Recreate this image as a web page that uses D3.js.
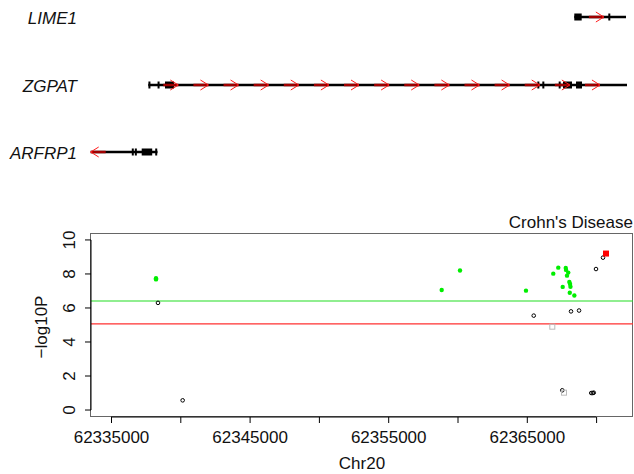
<!DOCTYPE html>
<html>
<head>
<meta charset="utf-8">
<script src="https://cdn.jsdelivr.net/npm/d3@7"></script>
<style>
    body { margin: 0; background: #fff; }
    text { font-family: "Liberation Sans", Arial, sans-serif; fill: #111; }
</style>
</head>
<body>
<script>
//association results: [position, -log10P]
var greenPoints = [
    [62338247, 7.75], [62338247, 7.68], [62358860, 7.06], [62360180, 8.2],
    [62364940, 7.02], [62366910, 8.02], [62367270, 8.37], [62367810, 8.35],
    [62367830, 8.24], [62367990, 8.08], [62367900, 7.9], [62368070, 7.53],
    [62368120, 7.41], [62368150, 7.25], [62367590, 7.24], [62368100, 6.9],
    [62368430, 6.73]
];
var blackPoints = [
    [62338390, 6.3], [62340170, 0.57], [62365500, 5.55], [62368190, 5.8],
    [62368770, 5.85], [62369993, 8.29], [62370498, 8.96], [62367560, 1.16],
    [62369650, 1.0], [62369760, 1.0], [62369830, 1.02]
];
var grayPoints = [[62366840, 4.9], [62367684, 1.02]];
var topPoint = [[62370714, 9.2]];

//significance thresholds
var thresholds = [6.41, 5.06];

//axis ticks
var xTicks = [62335000, 62340000, 62345000, 62350000, 62355000, 62360000, 62365000, 62370000];
var xLabels = [62335000, 62345000, 62355000, 62365000];
var yTicks = [0, 2, 4, 6, 8, 10];

//gene models
var geneNames = ["LIME1", "ZGPAT", "ARFRP1"];
var geneStrand = [1, 1, -1];
var geneSpans = [[62368427, 62372157], [62337691, 62372229], [62333535, 62338355]];
var geneExons = [
    [[62368427, 62368960], [62370880, 62370990]],
    [[62337700, 62337810], [62338360, 62338470], [62338896, 62339545], [62365760, 62365870],
     [62366120, 62366230], [62367300, 62367410], [62367612, 62368261], [62368550, 62368983]],
    [[62336500, 62336600], [62336720, 62336820], [62337215, 62337973], [62338190, 62338300]]
];
var geneArrows = [
    [62370560],
    [62339856, 62342029, 62344202, 62346375, 62348548, 62350721, 62352894, 62355067,
     62357240, 62359413, 62361586, 62363759, 62365932, 62368105, 62370278],
    [62333535]
];

var width = 634,
    height = 474;

var svg = d3.select("body")
    .append("svg")
    .attr("width", width)
    .attr("height", height);

var x = d3.scaleLinear()
    .domain([62333557, 62372662])
    .range([91, 633]);

var y = d3.scaleLinear()
    .domain([-0.41, 10.35])
    .range([417, 234]);

//gene tracks
var trackY = [17, 85, 152];

geneNames.forEach(function(name, i){
    var g = svg.append("g");
    var ty = trackY[i];

    g.append("text")
        .attr("x", 77)
        .attr("y", ty + 7)
        .attr("text-anchor", "end")
        .style("font-style", "italic")
        .style("font-size", "17px")
        .text(name);

    g.append("line")
        .attr("x1", x(geneSpans[i][0]))
        .attr("x2", x(geneSpans[i][1]))
        .attr("y1", ty)
        .attr("y2", ty)
        .attr("stroke", "#000")
        .attr("stroke-width", 2.5);

    g.selectAll(".exon")
        .data(geneExons[i])
        .enter()
        .append("rect")
        .attr("class", "exon")
        .attr("x", function(d){ return x(d[0]); })
        .attr("width", function(d){ return Math.max(2, x(d[1]) - x(d[0])); })
        .attr("y", ty - 3.5)
        .attr("height", 7)
        .attr("fill", "#000");

    //strand arrows: shaft plus chevron
    var s = geneStrand[i];
    var arrows = g.selectAll(".arrow")
        .data(geneArrows[i])
        .enter()
        .append("g")
        .attr("class", "arrow");

    arrows.append("line")
        .attr("x1", function(d){ return x(d) - s * 15; })
        .attr("x2", function(d){ return x(d); })
        .attr("y1", ty)
        .attr("y2", ty)
        .attr("stroke", "#a00000")
        .attr("stroke-width", 2.5);

    arrows.append("path")
        .attr("d", function(d){
            var tx = x(d);
            return "M" + (tx - s * 8) + "," + (ty - 5) + "L" + tx + "," + ty + "L" + (tx - s * 8) + "," + (ty + 5);
        })
        .attr("fill", "none")
        .attr("stroke", "#ff1a1a")
        .attr("stroke-width", 1);
});

//plot box
svg.append("rect")
    .attr("x", 90.5)
    .attr("y", 233.5)
    .attr("width", 542)
    .attr("height", 183)
    .attr("fill", "none")
    .attr("stroke", "#666")
    .attr("stroke-width", 1);

svg.append("text")
    .attr("x", 633)
    .attr("y", 228)
    .attr("text-anchor", "end")
    .style("font-size", "17px")
    .text("Crohn's Disease");

//threshold lines
svg.selectAll(".thresh")
    .data(thresholds)
    .enter()
    .append("line")
    .attr("class", "thresh")
    .attr("x1", 91)
    .attr("x2", 633)
    .attr("y1", function(d){ return y(d); })
    .attr("y2", function(d){ return y(d); })
    .attr("stroke", function(d, i){ return i == 0 ? "#22dd22" : "#ff3030"; })
    .attr("stroke-width", 1.2);

//points
svg.selectAll(".green")
    .data(greenPoints)
    .enter()
    .append("circle")
    .attr("class", "green")
    .attr("cx", function(d){ return x(d[0]); })
    .attr("cy", function(d){ return y(d[1]); })
    .attr("r", 2.2)
    .attr("fill", "#00ee00");

svg.selectAll(".black")
    .data(blackPoints)
    .enter()
    .append("circle")
    .attr("class", "black")
    .attr("cx", function(d){ return x(d[0]); })
    .attr("cy", function(d){ return y(d[1]); })
    .attr("r", 1.8)
    .attr("fill", "none")
    .attr("stroke", "#000")
    .attr("stroke-width", 1);

svg.selectAll(".gray")
    .data(grayPoints)
    .enter()
    .append("rect")
    .attr("class", "gray")
    .attr("x", function(d){ return x(d[0]) - 2.5; })
    .attr("y", function(d){ return y(d[1]) - 2.5; })
    .attr("width", 5)
    .attr("height", 5)
    .attr("fill", "none")
    .attr("stroke", "#bbb")
    .attr("stroke-width", 1);

svg.selectAll(".top")
    .data(topPoint)
    .enter()
    .append("rect")
    .attr("class", "top")
    .attr("x", function(d){ return x(d[0]) - 3; })
    .attr("y", function(d){ return y(d[1]) - 3; })
    .attr("width", 6)
    .attr("height", 6)
    .attr("fill", "#ff0000");

//x axis
var xAxis = svg.append("g")
    .attr("transform", "translate(0,417)")
    .call(d3.axisBottom(x)
        .tickValues(xTicks)
        .tickSize(6)
        .tickFormat(function(d){ return xLabels.indexOf(d) >= 0 ? d : ""; }));
xAxis.select(".domain").attr("d", "M" + x(xTicks[0]) + ",0H" + x(xTicks[xTicks.length - 1]));
xAxis.selectAll("text")
    .attr("dy", null)
    .attr("y", 26)
    .style("font-size", "17px")
    .style("font-family", "Liberation Sans, Arial, sans-serif")
    .attr("fill", "#111");

//y axis
var yAxis = svg.append("g")
    .attr("transform", "translate(91,0)")
    .call(d3.axisLeft(y).tickValues(yTicks).tickSize(6));
yAxis.select(".domain").attr("d", "M0," + y(0) + "V" + y(10));
yAxis.selectAll("text")
    .attr("x", null)
    .attr("dy", null)
    .attr("text-anchor", "middle")
    .attr("transform", function(d){ return "translate(-16," + y(d) + ") rotate(-90)"; })
    .style("font-size", "17px")
    .style("font-family", "Liberation Sans, Arial, sans-serif")
    .attr("fill", "#111");
yAxis.selectAll(".tick").attr("transform", null);
yAxis.selectAll(".tick line")
    .attr("y1", function(d){ return y(d); })
    .attr("y2", function(d){ return y(d); });

//axis titles
svg.append("text")
    .attr("x", 362)
    .attr("y", 469)
    .attr("text-anchor", "middle")
    .style("font-size", "17px")
    .text("Chr20");

svg.append("text")
    .attr("transform", "translate(47,327) rotate(-90)")
    .attr("text-anchor", "middle")
    .style("font-size", "17px")
    .text("\u2212log10P");
</script>
</body>
</html>
